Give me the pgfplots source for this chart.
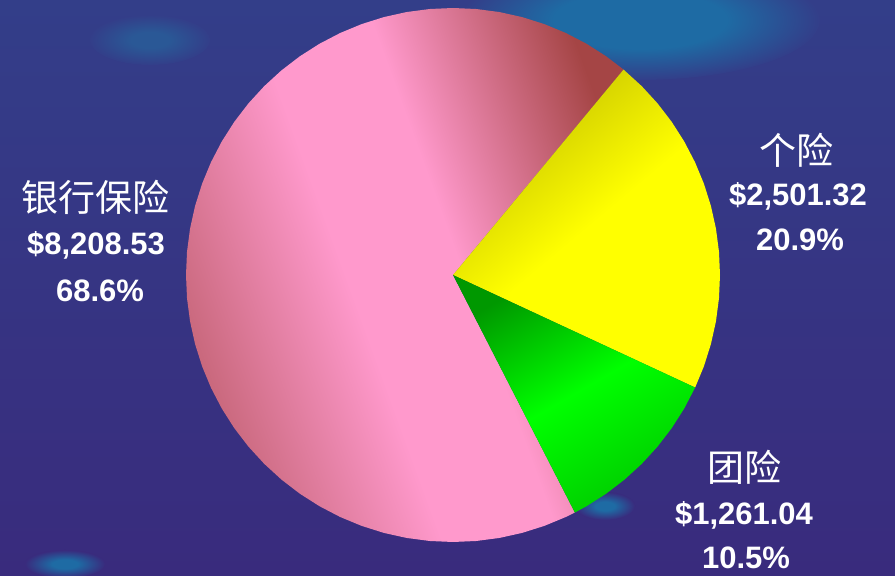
\documentclass[border=0pt]{standalone}
\usepackage{pgfplots}
\pgfplotsset{compat=1.18}
\usepgfplotslibrary{polar}
\usepackage{fontspec}
\setmainfont{Liberation Sans}
\newfontfamily\cjk{Noto Sans CJK SC}
\definecolor{bgtop}{HTML}{333E89}
\definecolor{bgbot}{HTML}{392B7D}
\definecolor{tealc}{HTML}{1E6BA4}
\definecolor{tealf}{HTML}{2A5896}
\definecolor{pkA}{HTML}{C0606F}
\definecolor{pkC}{HTML}{FF99CC}
\definecolor{pkE}{HTML}{A54545}
\definecolor{ylA}{HTML}{C4C000}
\definecolor{ylB}{HTML}{FFFF00}
\definecolor{gnA}{HTML}{009800}
\definecolor{gnB}{HTML}{00FF00}
\definecolor{gnC}{HTML}{00CC00}
\pgfdeclareverticalshading{pinkshade}{100bp}{color(0bp)=(pkA); color(23bp)=(pkA); color(44bp)=(pkC); color(56bp)=(pkC); color(76bp)=(pkE); color(100bp)=(pkE)}
\pgfdeclareradialshading{blob}{\pgfpoint{0bp}{0bp}}{color(0bp)=(tealc); color(12bp)=(tealc); color(25bp)=(bgtop); color(50bp)=(bgtop)}
\pgfdeclareradialshading{blobf}{\pgfpoint{0bp}{0bp}}{color(0bp)=(tealf); color(8bp)=(tealf); color(25bp)=(bgtop); color(50bp)=(bgtop)}
\pgfdeclareradialshading{blobb}{\pgfpoint{0bp}{0bp}}{color(0bp)=(tealc); color(8bp)=(tealc); color(25bp)=(bgbot); color(50bp)=(bgbot)}
\begin{document}
\begin{tikzpicture}
\path[use as bounding box] (0pt,0pt) rectangle (895pt,576pt);
\begin{scope}
\clip (0pt,0pt) rectangle (895pt,576pt);
\shade[top color=bgtop, bottom color=bgbot] (0pt,0pt) rectangle (895pt,576pt);
\shade[shading=blob] (640pt,556pt) ellipse [x radius=180pt, y radius=60pt];
\shade[shading=blobf] (150pt,536pt) ellipse [x radius=60pt, y radius=25pt];
\shade[shading=blobb] (65pt,12pt) ellipse [x radius=40pt, y radius=14pt];
\shade[shading=blobb] (605pt,70pt) ellipse [x radius=30pt, y radius=14pt];
\end{scope}
\begin{axis}[
  at={(0pt,0pt)}, anchor=south west,
  width=895pt, height=576pt, scale only axis,
  xmin=-453, xmax=442, ymin=-301, ymax=275,
  hide axis, clip=false,
]
% shares: 8208.53 / 2501.32 / 1261.04 of 11970.89 -> 246.86, 75.22, 37.92 degrees
\addplot[draw=none, shading=pinkshade, shading angle=-70, data cs=polar] coordinates {
(0,0) (50.3,267) (55,267) (60,267) (65,267) (70,267) (75,267) (80,267) (85,267) (90,267)
(95,267) (100,267) (105,267) (110,267) (115,267) (120,267) (125,267) (130,267) (135,267)
(140,267) (145,267) (150,267) (155,267) (160,267) (165,267) (170,267) (175,267) (180,267)
(185,267) (190,267) (195,267) (200,267) (205,267) (210,267) (215,267) (220,267) (225,267)
(230,267) (235,267) (240,267) (245,267) (250,267) (255,267) (260,267) (265,267) (270,267)
(275,267) (280,267) (285,267) (290,267) (295,267) (297.16,267) (0,0)};
\addplot[draw=none, top color=ylA, bottom color=ylB, middle color=ylB, shading angle=40, data cs=polar] coordinates {
(0,0) (50.3,267) (45,267) (40,267) (35,267) (30,267) (25,267) (20,267) (15,267) (10,267)
(5,267) (0,267) (-5,267) (-10,267) (-15,267) (-20,267) (-24.92,267) (0,0)};
\addplot[draw=none, top color=gnA, bottom color=gnC, middle color=gnB, shading angle=30, data cs=polar] coordinates {
(0,0) (-24.92,267) (-30,267) (-35,267) (-40,267) (-45,267) (-50,267) (-55,267) (-60,267)
(-62.84,267) (0,0)};
\tikzset{cn/.style={anchor=base, text=white, font=\cjk\fontsize{37}{40}\selectfont},
         nm/.style={anchor=base, text=white, font=\bfseries\fontsize{31}{36}\selectfont}}
\node[cn] at (axis cs:-358,63) {银行保险};
\node[nm] at (axis cs:-357,20) {\$8,208.53};
\node[nm] at (axis cs:-353,-27) {68.6\%};
\node[cn] at (axis cs:343,110) {个险};
\node[nm] at (axis cs:345,69) {\$2,501.32};
\node[nm] at (axis cs:347,24) {20.9\%};
\node[cn] at (axis cs:291,-207) {团险};
\node[nm] at (axis cs:291,-250) {\$1,261.04};
\node[nm] at (axis cs:293,-294) {10.5\%};
\end{axis}
\end{tikzpicture}
\end{document}
